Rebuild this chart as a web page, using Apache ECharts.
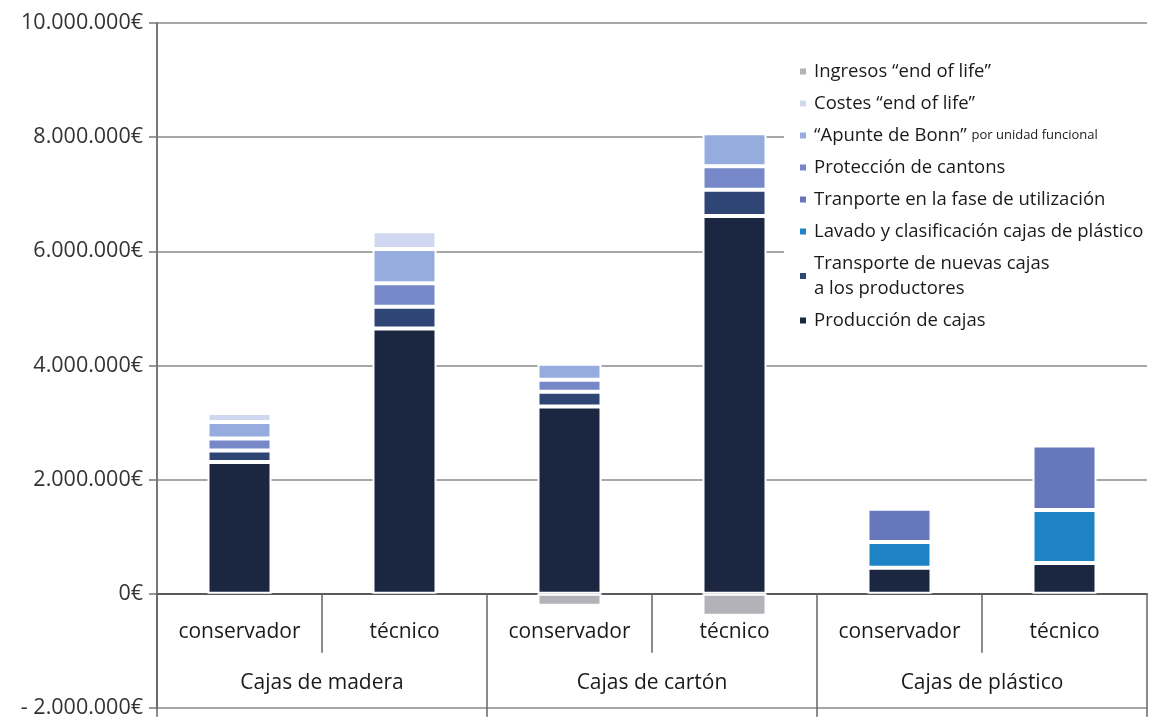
<!DOCTYPE html>
<html>
<head>
<meta charset="utf-8">
<script src="https://cdn.jsdelivr.net/npm/echarts@6/dist/echarts.min.js"></script>
<style>
  html, body { margin: 0; padding: 0; background: #fff; }
  #chart { width: 1154px; height: 717px; }
</style>
</head>
<body>
<div id="chart"></div>
<script>
// categorías: 6 columnas, agrupadas de dos en dos
const subCats = ['conservador', 'técnico', 'conservador', 'técnico', 'conservador', 'técnico']
const groups = ['Cajas de madera', 'Cajas de cartón', 'Cajas de plástico']

// valores en euros
const produccion = [2310000, 4650000, 3280000, 6620000, 455000, 540000]
const transporteNuevas = [200000, 380000, 260000, 460000, null, null]
const lavado = [null, null, null, null, 455000, 930000]
const transporteUso = [null, null, null, null, 580000, 1130000]
const proteccion = [210000, 410000, 210000, 410000, null, null]
const apunteBonn = [290000, 600000, 280000, 580000, null, null]
const costesEol = [160000, 310000, null, null, null, null]
const ingresosEol = [null, null, -210000, -385000, null, null]

const yMin = -2000000
const yMax = 10000000
const yStep = 2000000

const FONT = 'Open Sans'

const chart = echarts.init(document.getElementById('chart'))

function euro(v) {
  const s = Math.abs(v).toString().replace(/\B(?=(\d{3})+(?!\d))/g, '.')
  return (v < 0 ? '- ' : '') + s + '€'
}

const seriesDefs = [
  { name: 'Producción de cajas', color: '#1b2740', data: produccion },
  { name: 'Transporte de nuevas cajas a los productores', color: '#2f4574', data: transporteNuevas },
  { name: 'Lavado y clasificación cajas de plástico', color: '#1d83c5', data: lavado },
  { name: 'Tranporte en la fase de utilización', color: '#6677bb', data: transporteUso },
  { name: 'Protección de cantons', color: '#7688c8', data: proteccion },
  { name: '“Apunte de Bonn” por unidad funcional', color: '#97acde', data: apunteBonn },
  { name: 'Costes “end of life”', color: '#cfd8f0', data: costesEol },
  { name: 'Ingresos “end of life”', color: '#b3b2b8', data: ingresosEol }
]

chart.setOption({
  animation: false,
  textStyle: { fontFamily: FONT },
  grid: { left: 157, right: 7, top: 23, bottom: 9, containLabel: false, outerBoundsMode: 'none' },
  legend: {
    orient: 'vertical',
    left: 784,
    top: 54,
    icon: 'rect',
    itemWidth: 8,
    itemHeight: 8,
    itemGap: 7,
    padding: [5, 10, 5, 14],
    backgroundColor: '#fff',
    data: seriesDefs.map(s => s.name).reverse(),
    formatter: function(name) {
      if (name.indexOf('Apunte') >= 0) return '{a|“Apunte de Bonn”} {b|por unidad funcional}'
      if (name.indexOf('nuevas') >= 0) return 'Transporte de nuevas cajas\na los productores'
      return name
    },
    textStyle: {
      fontFamily: FONT,
      fontSize: 18.5,
      lineHeight: 25,
      color: '#1a1a1a',
      padding: [0, 0, 0, 2],
      rich: {
        a: { fontFamily: FONT, fontSize: 18.5, lineHeight: 25, color: '#1a1a1a' },
        b: { fontFamily: FONT, fontSize: 13, lineHeight: 25, color: '#1a1a1a' }
      }
    }
  },
  xAxis: [
    {
      type: 'category',
      data: subCats,
      axisLine: { onZero: true, onZeroAxisIndex: 0, lineStyle: { color: '#555', width: 1.5 } },
      axisTick: { show: true, length: 59, interval: 0, lineStyle: { color: '#666', width: 1.5 } },
      axisLabel: { inside: true, interval: 0, margin: 65, fontSize: 21, color: '#1a1a1a', fontFamily: FONT },
      splitLine: { show: false }
    },
    {
      type: 'category',
      data: groups,
      position: 'bottom',
      axisLine: { onZero: true, onZeroAxisIndex: 0, lineStyle: { color: '#555', width: 1.5 } },
      axisTick: { show: true, length: 123, interval: 0, lineStyle: { color: '#666', width: 1.5 } },
      axisLabel: { inside: true, interval: 0, margin: 14, fontSize: 21, color: '#1a1a1a', fontFamily: FONT },
      splitLine: { show: false }
    }
  ],
  yAxis: {
    type: 'value',
    min: yMin,
    max: yMax,
    interval: yStep,
    axisLine: { show: true, lineStyle: { color: '#777', width: 2 } },
    axisTick: { show: true, length: 8, lineStyle: { color: '#777', width: 1.5 } },
    axisLabel: { margin: 14, fontSize: 21.5, color: '#333', fontFamily: FONT, formatter: euro },
    splitLine: { show: true, lineStyle: { color: '#8a8a8a', width: 1.5 } }
  },
  series: seriesDefs.map(s => ({
    name: s.name,
    type: 'bar',
    stack: 'total',
    xAxisIndex: 0,
    barWidth: 64,
    itemStyle: { color: s.color, borderColor: '#fff', borderWidth: 2 },
    emphasis: { disabled: true },
    data: s.data
  }))
})
</script>
</body>
</html>
